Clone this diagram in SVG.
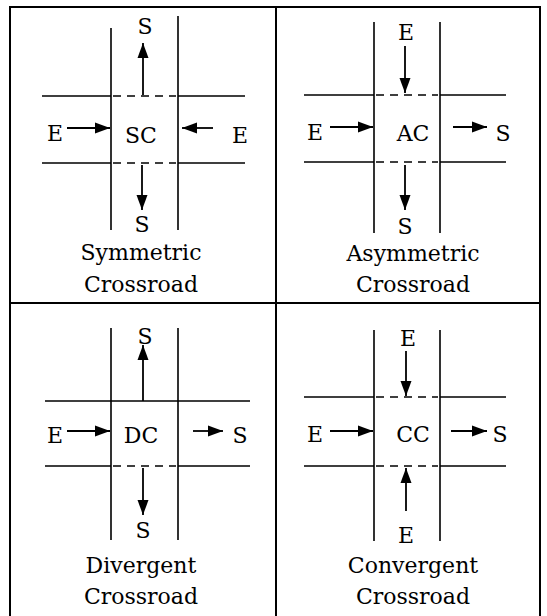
<svg xmlns="http://www.w3.org/2000/svg" width="547" height="616" viewBox="0 0 547 616">
<style>
.frame{stroke:#000;stroke-width:2;fill:none}
.road{stroke:#000;stroke-width:1.6;fill:none}
.dash{stroke:#000;stroke-width:1.4;fill:none;stroke-dasharray:8 6}
.arr{stroke:#000;stroke-width:1.8;fill:none;marker-end:url(#ah)}
text{font-family:"DejaVu Serif","Liberation Serif",serif;font-size:22px;fill:#000;text-anchor:middle}
</style>
<defs>
<marker id="ah" markerUnits="userSpaceOnUse" markerWidth="16" markerHeight="12" refX="15" refY="6" orient="auto">
<path d="M0,0.5 L15,6 L0,11.5 z" fill="#000"/>
</marker>
</defs>
<rect width="547" height="616" fill="#fff"/>
<g id="frame">
<path class="frame" d="M10,616 V7 H540 V616 M276,7 V616 M10,303 H540"/>
</g>

<g id="sc">
<path class="road" d="M111,28 V230 M178,16 V230 M42,96 H111 M178,96 H245 M42,163 H111 M178,163 H245"/>
<path class="dash" d="M113,96 H176 M113,163 H176"/>
<text x="145" y="34">S</text>
<text x="55" y="141">E</text>
<text x="141" y="143">SC</text>
<text x="240" y="143">E</text>
<text x="142" y="232">S</text>
<text x="141" y="260">Symmetric</text>
<text x="141" y="292">Crossroad</text>
</g>

<g id="ac">
<path class="road" d="M374,22 V233 M440,22 V233 M304,95 H374 M440,95 H506 M304,162 H374 M440,162 H506"/>
<path class="dash" d="M376,95 H438 M376,162 H438"/>
<text x="406" y="40">E</text>
<text x="315" y="140">E</text>
<text x="413" y="141">AC</text>
<text x="503" y="141">S</text>
<text x="405" y="234">S</text>
<text x="413" y="261">Asymmetric</text>
<text x="413" y="292">Crossroad</text>
</g>

<g id="dc">
<path class="road" d="M111,328 V540 M178,328 V540 M45,401 H250 M45,466 H111 M178,466 H250"/>
<path class="dash" d="M113,466 H176"/>
<text x="145" y="344">S</text>
<text x="55" y="443">E</text>
<text x="141" y="443">DC</text>
<text x="240" y="443">S</text>
<text x="143" y="538">S</text>
<text x="141" y="573">Divergent</text>
<text x="141" y="604">Crossroad</text>
</g>

<g id="cc">
<path class="road" d="M374,330 V541 M440,330 V541 M304,397 H374 M440,397 H506 M304,466 H374 M440,466 H506"/>
<path class="dash" d="M376,397 H438 M376,466 H438"/>
<text x="408" y="346">E</text>
<text x="315" y="442">E</text>
<text x="413" y="442">CC</text>
<text x="500" y="442">S</text>
<text x="406" y="543">E</text>
<text x="413" y="573">Convergent</text>
<text x="413" y="604">Crossroad</text>
</g>

<g id="connectors">
<path class="arr" d="M143,95 V43"/>
<path class="arr" d="M67,128 H110"/>
<path class="arr" d="M213,128 H182"/>
<path class="arr" d="M142,165 V210"/>

<path class="arr" d="M405,46 V93"/>
<path class="arr" d="M330,127 H373"/>
<path class="arr" d="M453,127 H487"/>
<path class="arr" d="M405,165 V210"/>

<path class="arr" d="M143,401 V345"/>
<path class="arr" d="M67,431 H110"/>
<path class="arr" d="M193,431 H223"/>
<path class="arr" d="M143,468 V515"/>

<path class="arr" d="M406,351 V396"/>
<path class="arr" d="M330,431 H373"/>
<path class="arr" d="M451,431 H487"/>
<path class="arr" d="M406,511 V468"/>
</g>
</svg>
